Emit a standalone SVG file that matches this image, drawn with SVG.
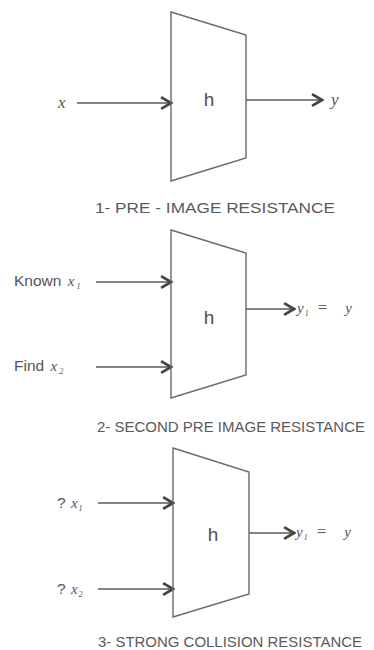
<svg xmlns="http://www.w3.org/2000/svg" width="374" height="650" viewBox="0 0 374 650">
<style>
.box{fill:none;stroke:#6a6a6a;stroke-width:1.4}
.ln{fill:none;stroke:#5a5a5a;stroke-width:1.4;marker-end:url(#ah)}
.s{font-family:"Liberation Sans",Arial,sans-serif;fill:#555}
.h{font-family:"Liberation Sans",Arial,sans-serif;font-size:19px;fill:#505050;text-anchor:middle}
.cap{font-family:"Liberation Sans",Arial,sans-serif;font-size:15.5px;fill:#5a5a5a}
.m{font-family:"Liberation Serif","Times New Roman",serif;font-style:italic;fill:#555}
</style>
<defs>
<marker id="ah" markerUnits="userSpaceOnUse" markerWidth="14" markerHeight="14" refX="10" refY="6" orient="auto" viewBox="0 0 12 12">
<path d="M1.5,1 L10,6 L1.5,11" fill="none" stroke="#454545" stroke-width="2.3"/>
</marker>
</defs>
<g id="connectors">
<line class="ln" x1="77" y1="103" x2="171" y2="103"/>
<line class="ln" x1="246" y1="100" x2="322" y2="100"/>
<line class="ln" x1="96" y1="282" x2="171" y2="282"/>
<line class="ln" x1="96" y1="367" x2="171" y2="367"/>
<line class="ln" x1="246" y1="309" x2="294" y2="309"/>
<line class="ln" x1="98" y1="503" x2="173" y2="503"/>
<line class="ln" x1="98" y1="589" x2="173" y2="589"/>
<line class="ln" x1="249" y1="533" x2="294" y2="533"/>
</g>
<g id="h1">
<polygon class="box" points="171,12 246,35 246,158 171,181"/>
<text class="h" x="209" y="106">h</text>
</g>
<g id="h2">
<polygon class="box" points="171,230 246,253 246,375 171,398"/>
<text class="h" x="209" y="324">h</text>
</g>
<g id="h3">
<polygon class="box" points="173,448 249,472 249,594 173,617"/>
<text class="h" x="213" y="541">h</text>
</g>
<g id="labels">
<text class="m" x="58" y="108" font-size="17">x</text>
<text class="m" x="331" y="105" font-size="17">y</text>
<text class="s" x="14" y="286" font-size="15.5">Known <tspan class="m" font-size="15" dx="2">x</tspan><tspan class="m" font-size="8" dy="3" dx="2">1</tspan></text>
<text class="s" x="14" y="371" font-size="15.5">Find <tspan class="m" font-size="15" dx="2">x</tspan><tspan class="m" font-size="8" dy="3" dx="2">2</tspan></text>
<text class="m" x="297" y="313" font-size="15">y<tspan font-size="8" dy="3" dx="1">1</tspan><tspan font-style="normal" font-size="17" dy="-3" dx="9">=</tspan><tspan font-size="15" dx="18">y</tspan></text>
<text class="s" x="57" y="508" font-size="15.5">? <tspan class="m" font-size="15" dx="1">x</tspan><tspan class="m" font-size="8" dy="3" dx="1">1</tspan></text>
<text class="s" x="57" y="594" font-size="15.5">? <tspan class="m" font-size="15" dx="1">x</tspan><tspan class="m" font-size="8" dy="3" dx="1">2</tspan></text>
<text class="m" x="296" y="537" font-size="15">y<tspan font-size="8" dy="3" dx="1">1</tspan><tspan font-style="normal" font-size="17" dy="-3" dx="9">=</tspan><tspan font-size="15" dx="18">y</tspan></text>
</g>
<g id="captions">
<text class="cap" x="95" y="213" textLength="240" lengthAdjust="spacingAndGlyphs">1-  PRE - IMAGE RESISTANCE</text>
<text class="cap" x="97" y="432" textLength="268" lengthAdjust="spacingAndGlyphs">2-  SECOND PRE IMAGE RESISTANCE</text>
<text class="cap" x="98" y="647" textLength="264" lengthAdjust="spacingAndGlyphs">3-  STRONG COLLISION RESISTANCE</text>
</g>
</svg>
